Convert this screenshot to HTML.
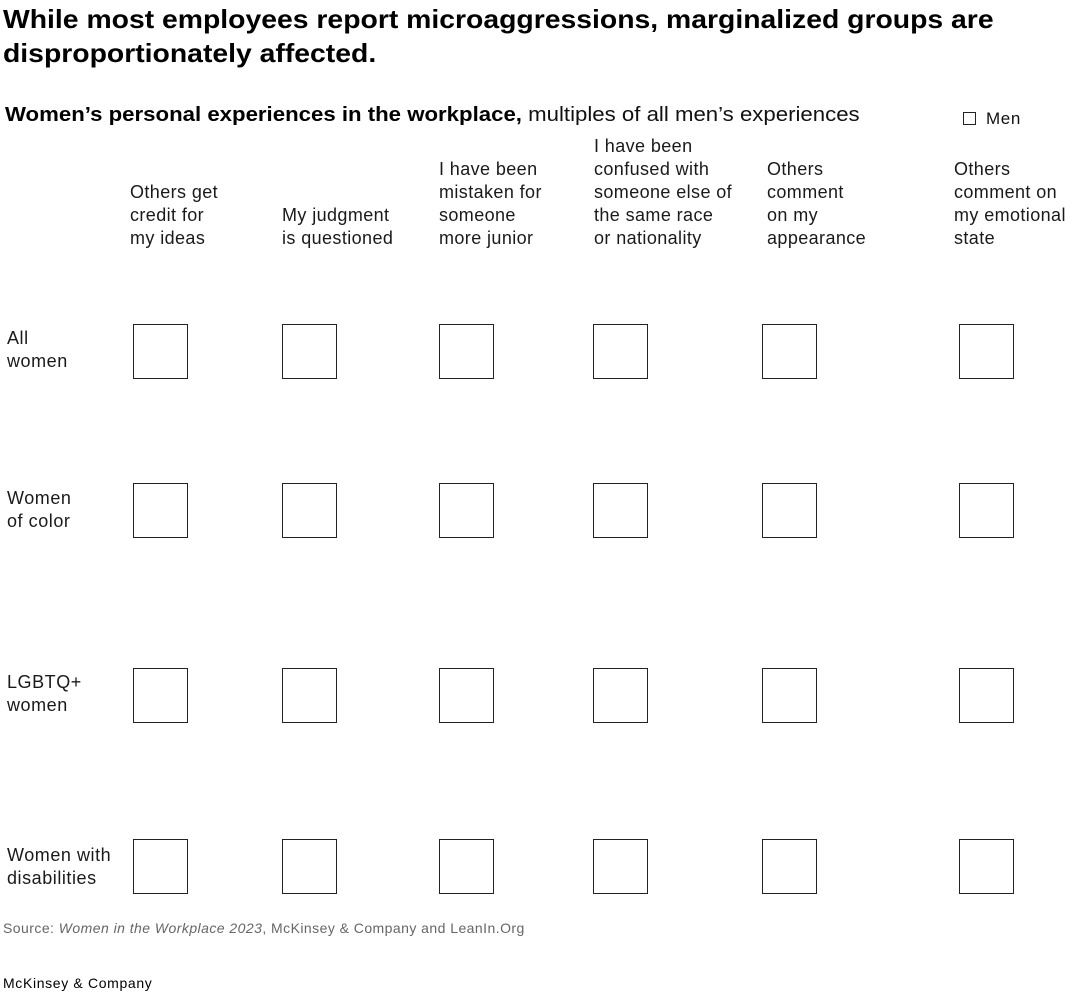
<!DOCTYPE html>
<html>
<head>
<meta charset="utf-8">
<style>
  html, body { margin:0; padding:0; background:#fff; }
  body { width:1080px; height:995px; position:relative; overflow:hidden;
         font-family:"Liberation Sans", Arial, sans-serif; color:#111; }
  .abs { position:absolute; white-space:nowrap; }
  .title { left:3px; top:2px; font-size:26px; line-height:34px; font-weight:bold; color:#000; transform:scaleX(1.09); transform-origin:0 0; }
  .sub { left:5px; top:103px; font-size:20px; line-height:24px; color:#111; transform:scaleX(1.11); transform-origin:0 0; }
  .sub b { color:#000; }
  .lab { font-size:18px; line-height:23px; color:#1a1a1a; letter-spacing:0.4px; }
  .row { letter-spacing:0.55px; }
  .box { position:absolute; width:55px; height:55px; box-sizing:border-box; border:1.6px solid #222; background:#fff; }
  .legbox { position:absolute; left:963px; top:112px; width:13px; height:13px; box-sizing:border-box; border:1.5px solid #222; }
  .leg { left:986px; top:108px; font-size:17px; line-height:21px; color:#111; letter-spacing:0.6px; }
  .src { left:3px; top:920px; font-size:14px; line-height:17px; color:#666; letter-spacing:0.45px; }
  .foot { left:3px; top:975px; font-size:14px; line-height:17px; color:#000; letter-spacing:0.65px; }
</style>
</head>
<body>
<div class="abs title">While most employees report microaggressions, marginalized groups are<br>disproportionately affected.</div>
<div class="abs sub"><b>Women’s personal experiences in the workplace,</b> multiples of all men’s experiences</div>
<div class="legbox"></div>
<div class="abs leg">Men</div>

<div class="abs lab" style="left:130px; top:181px;">Others get<br>credit for<br>my ideas</div>
<div class="abs lab" style="left:282px; top:204px;">My judgment<br>is questioned</div>
<div class="abs lab" style="left:439px; top:158px;">I have been<br>mistaken for<br>someone<br>more junior</div>
<div class="abs lab" style="left:594px; top:135px;">I have been<br>confused with<br>someone else of<br>the same race<br>or nationality</div>
<div class="abs lab" style="left:767px; top:158px;">Others<br>comment<br>on my<br>appearance</div>
<div class="abs lab" style="left:954px; top:158px;">Others<br>comment on<br>my emotional<br>state</div>

<div class="abs lab row" style="left:7px; top:327px;">All<br>women</div>
<div class="abs lab row" style="left:7px; top:487px;">Women<br>of color</div>
<div class="abs lab row" style="left:7px; top:671px;">LGBTQ+<br>women</div>
<div class="abs lab row" style="left:7px; top:844px;">Women with<br>disabilities</div>

<!-- row 1 -->
<div class="box" style="left:133px; top:324px;"></div>
<div class="box" style="left:282px; top:324px;"></div>
<div class="box" style="left:439px; top:324px;"></div>
<div class="box" style="left:593px; top:324px;"></div>
<div class="box" style="left:762px; top:324px;"></div>
<div class="box" style="left:959px; top:324px;"></div>
<!-- row 2 -->
<div class="box" style="left:133px; top:483px;"></div>
<div class="box" style="left:282px; top:483px;"></div>
<div class="box" style="left:439px; top:483px;"></div>
<div class="box" style="left:593px; top:483px;"></div>
<div class="box" style="left:762px; top:483px;"></div>
<div class="box" style="left:959px; top:483px;"></div>
<!-- row 3 -->
<div class="box" style="left:133px; top:668px;"></div>
<div class="box" style="left:282px; top:668px;"></div>
<div class="box" style="left:439px; top:668px;"></div>
<div class="box" style="left:593px; top:668px;"></div>
<div class="box" style="left:762px; top:668px;"></div>
<div class="box" style="left:959px; top:668px;"></div>
<!-- row 4 -->
<div class="box" style="left:133px; top:839px;"></div>
<div class="box" style="left:282px; top:839px;"></div>
<div class="box" style="left:439px; top:839px;"></div>
<div class="box" style="left:593px; top:839px;"></div>
<div class="box" style="left:762px; top:839px;"></div>
<div class="box" style="left:959px; top:839px;"></div>

<div class="abs src">Source: <i>Women in the Workplace 2023</i>, McKinsey &amp; Company and LeanIn.Org</div>
<div class="abs foot">McKinsey &amp; Company</div>
</body>
</html>
